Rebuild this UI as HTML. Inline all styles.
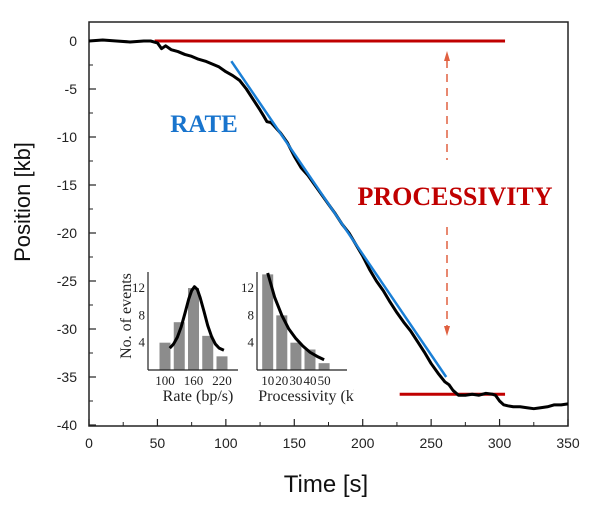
<!DOCTYPE html>
<html><head><meta charset="utf-8"><style>
body{margin:0;background:#fff;}
svg{display:block;}
</style></head><body>
<svg id="chart" width="600" height="509" viewBox="0 0 600 509" xmlns="http://www.w3.org/2000/svg">
<rect x="0" y="0" width="600" height="509" fill="#fff"/>
<g id="axes"></g>
<g id="marks"></g>
<g id="inset"></g>
<text x="52" y="224" transform="rotate(-90 30 224)" font-family="Liberation Sans, sans-serif" font-size="22" text-anchor="middle" fill="#111">Position [kb]</text>
<text x="326" y="492" font-family="Liberation Sans, sans-serif" font-size="24" text-anchor="middle" fill="#111">Time [s]</text>
<text x="204" y="132" font-family="Liberation Serif, serif" font-weight="bold" font-size="25" text-anchor="middle" fill="#1874cd">RATE</text>
<text x="455" y="205" font-family="Liberation Serif, serif" font-weight="bold" font-size="26" text-anchor="middle" fill="#c00000">PROCESSIVITY</text>
</svg>
<script>
const times=[0,10,20,30,40,45,50,53,56,60,65,70,75,80,85,90,95,100,105,110,115,120,125,128,130,133,135,140,145,150,155,160,165,170,175,180,185,190,195,200,205,210,215,220,225,230,235,240,245,250,255,260,263,266,270,275,280,285,290,295,297,300,303,306,310,315,320,325,330,335,340,345,350];
const positions=[0,0.1,0,-0.1,0,0,-0.2,-0.8,-0.5,-0.9,-1.1,-1.4,-1.6,-1.9,-2.1,-2.4,-2.7,-3.2,-3.6,-4.1,-5,-6.1,-7.2,-7.9,-8.4,-8.5,-8.8,-9.6,-10.6,-12,-13.2,-14,-15,-16,-17,-18,-19.1,-20,-21.2,-22.4,-23.8,-25,-26,-27.2,-28.3,-29.3,-30.2,-31.3,-32.4,-33.6,-34.6,-35.5,-35.8,-36.4,-36.9,-36.9,-36.8,-36.9,-36.7,-36.8,-36.9,-37.5,-37.9,-38,-38.1,-38.1,-38.2,-38.3,-38.2,-38.1,-37.9,-37.9,-37.8];
const rateFit=[[104,-2.1],[261,-35]];
const startLevel=[[48,0],[304,0]];
const endLevel=[[227,-36.8],[304,-36.8]];
const xTicks=[0,50,100,150,200,250,300,350];
const yTicks=[0,-5,-10,-15,-20,-25,-30,-35,-40];
const rateCats=[100,130,160,190,220];
const rateCounts=[4,7,12,5,2];
const rateFitX=[110,118,126,134,142,150,156,162,168,174,182,190,198,206,214,224];
const rateFitY=[3.2,3.8,4.8,6.3,8.3,10.4,11.6,12.2,11.8,10.6,8.6,6.5,4.9,3.8,3.2,2.9];
const procCats=[10,20,30,40,50];
const procCounts=[14,8,4,3,1];
const procFitX=[10,15,20,25,30,35,40,45,50];
const procFitY=[14.2,10.6,8,6,4.6,3.5,2.6,2,1.5];

const NS='http://www.w3.org/2000/svg';
function mk(tag,attrs,parent){const e=document.createElementNS(NS,tag);for(const k in attrs)e.setAttribute(k,attrs[k]);parent.appendChild(e);return e;}
const X=t=>89+t*(479/350);
const Y=v=>41-v*9.6;
const axes=document.getElementById('axes'),marks=document.getElementById('marks'),inset=document.getElementById('inset');

const frame=mk('rect',{x:89,y:22,width:479,height:404,fill:'none',stroke:'#222','stroke-width':1.5},axes);


xTicks.forEach(t=>{
  const l=mk('line',{x1:X(t),x2:X(t),y1:426,y2:419,stroke:'#222','stroke-width':1.2},axes);
  
  
  if(t<350){const m=mk('line',{x1:X(t+25),x2:X(t+25),y1:426,y2:422,stroke:'#222','stroke-width':1},axes);
  
  }
  const tx=mk('text',{x:X(t),y:448,'font-family':'Liberation Sans, sans-serif','font-size':14,'text-anchor':'middle',fill:'#222'},axes);
  tx.textContent=t;
  
  
});
yTicks.forEach(v=>{
  const l=mk('line',{x1:89,x2:96,y1:Y(v),y2:Y(v),stroke:'#222','stroke-width':1.2},axes);
  
  
  if(v>-40){const m=mk('line',{x1:89,x2:93,y1:Y(v-2.5),y2:Y(v-2.5),stroke:'#222','stroke-width':1},axes);
  
  }
  const tx=mk('text',{x:77,y:Y(v)+5,'font-family':'Liberation Sans, sans-serif','font-size':14,'text-anchor':'end',fill:'#222'},axes);
  tx.textContent=v;
  
  
});
function seg(pts,color,w,name){const l=mk('line',{x1:X(pts[0][0]),y1:Y(pts[0][1]),x2:X(pts[1][0]),y2:Y(pts[1][1]),stroke:color,'stroke-width':w},marks);
  
  }
seg(startLevel,'#c00000',3,'start-level-line');
seg(endLevel,'#c00000',3,'end-level-line');
const trace=mk('polyline',{points:times.map((t,i)=>X(t)+','+Y(positions[i])).join(' '),fill:'none',stroke:'#000','stroke-width':3,'stroke-linejoin':'round'},marks);


seg(rateFit,'#1a7fd6',2.5,'rate-fit-line');
const ax=447;
const d1=mk('line',{x1:ax,y1:60,x2:ax,y2:160,stroke:'#e06040','stroke-width':1.5,'stroke-dasharray':'8,6'},marks);


const h1=mk('polygon',{points:`${ax},51 ${ax-3},61 ${ax+3},61`,fill:'#e06040'},marks);


const d2=mk('line',{x1:ax,y1:227,x2:ax,y2:326,stroke:'#e06040','stroke-width':1.5,'stroke-dasharray':'8,6'},marks);


const h2=mk('polygon',{points:`${ax},336 ${ax-3},326 ${ax+3},326`,fill:'#e06040'},marks);



const bg=mk('rect',{x:114,y:258,width:242,height:148,fill:'#fff'},inset);


const IY=v=>370-v*6.83;
const serif='Liberation Serif, serif';
function hist(axisX,cats,counts,cx,fx,fy,labels,title,tx,name){
  counts.forEach((c,i)=>{const b=mk('rect',{x:cx(cats[i])-5.5,y:IY(c),width:11,height:370-IY(c),fill:'#8c8c8c'},inset);
    
    });
  const a1=mk('line',{x1:axisX,y1:272,x2:axisX,y2:370,stroke:'#222','stroke-width':1.2},inset);
  
  
  const a2=mk('line',{x1:axisX,y1:370,x2:axisX+90,y2:370,stroke:'#222','stroke-width':1.2},inset);
  
  
  [4,8,12].forEach(v=>{const t=mk('text',{x:axisX-3,y:IY(v)+4,'font-family':serif,'font-size':13,'text-anchor':'end',fill:'#222'},inset);t.textContent=v;
    
    });
  labels.forEach(v=>{const t=mk('text',{x:cx(v),y:385,'font-family':serif,'font-size':13,'text-anchor':'middle',fill:'#222'},inset);t.textContent=v;
    
    });
  const p=mk('polyline',{points:fx.map((x,i)=>cx(x)+','+IY(fy[i])).join(' '),fill:'none',stroke:'#000','stroke-width':3,'stroke-linejoin':'round'},inset);
  
  
  const tt=mk('text',{x:tx,y:401,'font-family':serif,'font-size':16,'text-anchor':'middle',fill:'#222'},inset);tt.textContent=title;
  
  
}
hist(148,rateCats,rateCounts,v=>165+(v-100)*(14.25/30),rateFitX,rateFitY,[100,160,220],'Rate (bp/s)',198,'rate-hist');
hist(257,procCats,procCounts,v=>267.7+(v-10)*(14.1/10),procFitX,procFitY,[10,20,30,40,50],'Processivity (kb',310,'processivity-hist');
const clip=mk('rect',{x:354,y:386,width:12,height:20,fill:'#fff'},inset);


const yt=mk('text',{x:0,y:0,transform:'translate(131 316) rotate(-90)','font-family':serif,'font-size':16,'text-anchor':'middle',fill:'#222'},inset);
yt.textContent='No. of events';


</script>
</body></html>
